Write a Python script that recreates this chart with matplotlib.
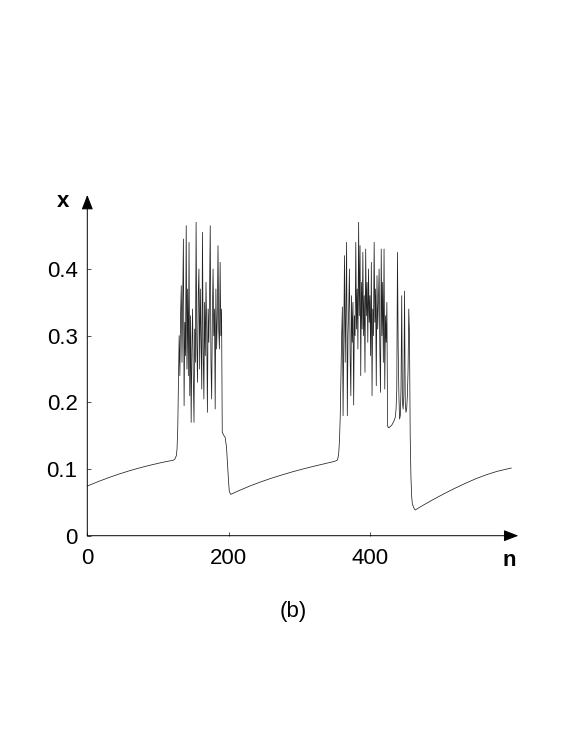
import numpy as np
import matplotlib.pyplot as plt

plt.rcParams['font.family'] = ['Liberation Sans', 'DejaVu Sans']

# slow growth before first burst
n_quiet1 = [0, 15, 30, 45, 60, 75, 90, 105, 120, 122, 124, 126, 127, 128]
x_quiet1 = [0.0745, 0.081, 0.087, 0.0925, 0.0975, 0.102, 0.106, 0.1097, 0.1128, 0.1133, 0.115, 0.120, 0.130, 0.160]

# first burst, one value per iteration n=129..191
x_burst1 = [0.23, 0.30, 0.24, 0.33, 0.375, 0.26, 0.36, 0.445, 0.195, 0.32,
            0.27, 0.465, 0.25, 0.37, 0.24, 0.44, 0.21, 0.33, 0.17, 0.28,
            0.34, 0.24, 0.17, 0.31, 0.26, 0.47, 0.29, 0.23, 0.36, 0.40,
            0.25, 0.37, 0.30, 0.22, 0.455, 0.28, 0.205, 0.35, 0.27, 0.38,
            0.31, 0.185, 0.34, 0.29, 0.36, 0.465, 0.26, 0.205, 0.33, 0.40,
            0.30, 0.34, 0.19, 0.37, 0.28, 0.33, 0.435, 0.31, 0.28, 0.41,
            0.30, 0.34, 0.155]
n_burst1 = list(range(129, 129 + len(x_burst1)))

# fall and recovery after first burst
n_quiet2 = [192, 194, 195, 197, 198, 199, 200, 201, 203, 215, 230, 245, 260, 275,
            290, 305, 320, 335, 350, 354, 355, 356, 357]
x_quiet2 = [0.153, 0.149, 0.148, 0.133, 0.115, 0.095, 0.080, 0.066, 0.062, 0.0678,
            0.0745, 0.0805, 0.0860, 0.0910, 0.0957, 0.1000, 0.1040, 0.1078, 0.1115, 0.1135,
            0.118, 0.126, 0.145]

# second burst, n=358..457
x_burst2 = [0.18, 0.24, 0.30, 0.343, 0.18, 0.31, 0.42, 0.26, 0.34, 0.44,
            0.18, 0.30, 0.34, 0.40, 0.27, 0.21, 0.36, 0.29, 0.35, 0.196,
            0.33, 0.30, 0.44, 0.31, 0.37, 0.28, 0.47, 0.33, 0.435, 0.24,
            0.38, 0.31, 0.425, 0.30, 0.36, 0.245, 0.43, 0.33, 0.38, 0.29,
            0.40, 0.32, 0.36, 0.27, 0.41, 0.21, 0.34, 0.30, 0.44, 0.32,
            0.37, 0.225, 0.39, 0.31, 0.35, 0.40, 0.28, 0.215, 0.43, 0.30,
            0.38, 0.26, 0.43, 0.22, 0.33, 0.29, 0.35, 0.165, 0.162, 0.162,
            0.163, 0.164, 0.165, 0.166, 0.168, 0.170, 0.172, 0.175, 0.178, 0.19,
            0.22, 0.425, 0.28, 0.21, 0.175, 0.18, 0.22, 0.36, 0.20, 0.19,
            0.21, 0.367, 0.20, 0.185, 0.19, 0.21, 0.25, 0.34, 0.30, 0.15]
n_burst2 = list(range(358, 358 + len(x_burst2)))

# fall and recovery after second burst
n_quiet3 = [458, 459, 460, 462, 464, 475, 490, 505, 520, 535, 550, 565, 580, 600]
x_quiet3 = [0.09, 0.06, 0.048, 0.042, 0.0385, 0.0455, 0.0545, 0.063, 0.071, 0.0785,
            0.0855, 0.0915, 0.0965, 0.1015]

n = np.array(n_quiet1 + n_burst1 + n_quiet2 + n_burst2 + n_quiet3)
x = np.array(x_quiet1 + x_burst1 + x_quiet2 + x_burst2 + x_quiet3)

fig = plt.figure(figsize=(5.81, 7.52), dpi=100)
ax = fig.add_axes([87.3/581, 1 - 535.7/752, 431/581, 340.7/752])

ax.plot(n, x, color='#222222', lw=0.55)

ax.set_xlim(0, 610)
ax.set_ylim(0, 0.511)
for s in ax.spines.values():
    s.set_visible(False)

arr = dict(arrowstyle='-|>,head_length=0.9,head_width=0.35', color='black',
           lw=0.7, mutation_scale=10, shrinkA=0, shrinkB=0)
ax.annotate('', xy=(1, 0), xytext=(0, 0), xycoords='axes fraction', arrowprops=arr)
ax.annotate('', xy=(0, 1), xytext=(0, 0), xycoords='axes fraction', arrowprops=arr)

ax.set_xticks([0, 200, 400])
ax.set_xticklabels(['0', '200', '400'])
ax.set_yticks([0, 0.1, 0.2, 0.3, 0.4])
ax.set_yticklabels(['0', '0.1', '0.2', '0.3', '0.4'])
ax.tick_params(direction='in', length=3, width=0.6, labelsize=16, color='#333333')
ax.tick_params(axis='x', pad=9)
ax.tick_params(axis='y', pad=7)

fig.text(63/581, 1 - 207/752, 'x', fontsize=16, fontweight='bold', ha='center', va='baseline')
fig.text(509/581, 1 - 565.5/752, 'n', fontsize=16, fontweight='bold', ha='center', va='baseline')
fig.text(293/581, 1 - 617/752, '(b)', fontsize=16, ha='center', va='baseline')

fig.savefig('out.png', dpi=100)
